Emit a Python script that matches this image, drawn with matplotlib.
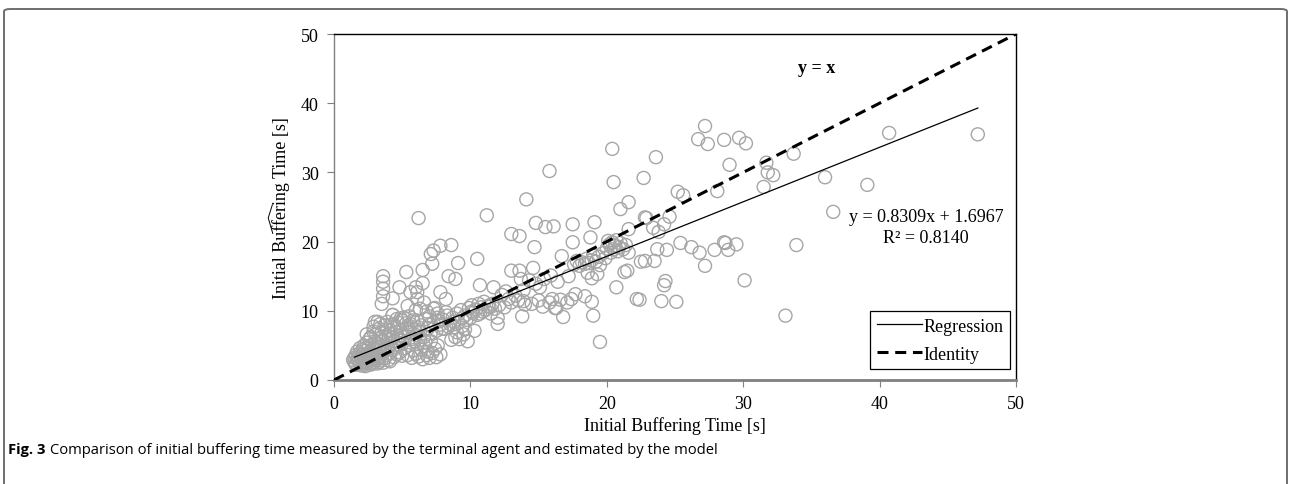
import matplotlib.pyplot as plt
from matplotlib.patches import FancyBboxPatch
from matplotlib.lines import Line2D
import numpy as np

plt.rcParams['font.family'] = 'Liberation Serif'

# measured (x) vs estimated (y) initial buffering time [s]
# dense part near the origin
x_low = [1.4, 1.5, 1.5, 1.6, 1.6, 1.7, 1.7, 1.8, 1.8, 1.9, 1.9, 1.9, 2.0, 2.0, 2.1, 2.1, 2.1,
         2.2, 2.2, 2.2, 2.3, 2.3, 2.3, 2.4, 2.4, 2.4, 2.5, 2.5, 2.5, 2.6, 2.6, 2.6,
         2.7, 2.7, 2.7, 2.8, 2.8, 2.9, 2.9, 2.9, 3.0, 3.0, 3.0, 3.1, 3.1, 3.1, 3.2, 3.2,
         3.3, 3.3, 3.3, 3.4, 3.4, 3.5, 3.5, 3.5, 3.6, 3.6, 3.7, 3.7, 3.7, 3.8, 3.8, 3.9,
         3.9, 4.0, 4.0, 4.0, 4.1, 4.1, 4.2, 4.2, 4.3, 4.3, 4.4, 4.4, 4.5, 4.5, 4.6, 4.6,
         4.7, 4.7, 4.8, 4.8, 4.9, 4.9, 5.0, 5.0, 5.0, 1.6, 2.0, 2.3, 2.8, 3.2, 3.6, 4.1,
         2.4, 2.9, 3.4, 3.9, 4.4, 4.9, 5.3, 5.8]
y_low = [2.9, 3.2, 2.6, 3.6, 2.4, 3.0, 4.1, 2.7, 3.4, 2.3, 3.9, 4.6, 2.9, 3.3, 2.5, 4.4, 3.7,
         2.2, 3.0, 5.0, 2.7, 3.5, 4.2, 2.4, 3.8, 5.4, 3.1, 2.6, 4.7, 3.4, 2.2, 5.9,
         2.8, 4.0, 6.2, 3.6, 5.1, 2.5, 4.5, 7.0, 3.2, 5.6, 8.4, 2.9, 4.8, 6.6, 3.8, 5.3,
         2.6, 4.2, 7.4, 3.4, 6.0, 4.9, 2.9, 6.9, 3.9, 5.6, 4.4, 7.9, 3.1, 6.3, 5.0, 3.6,
         7.2, 4.6, 5.9, 2.9, 6.7, 3.9, 5.3, 8.0, 4.3, 6.2, 3.3, 7.5, 5.6, 4.8, 6.9, 3.7,
         6.0, 8.3, 5.1, 4.0, 7.1, 6.4, 5.7, 3.5, 8.6, 2.2, 2.1, 2.0, 2.3, 2.4, 2.5, 2.7,
         6.6, 7.7, 8.1, 8.4, 8.0, 8.9, 8.2, 8.6]

# band between 5 and 12 s
x_mid = [5.2, 5.3, 5.5, 5.6, 5.7, 5.9, 6.0, 6.1, 6.3, 6.4, 6.6, 6.7, 6.9, 7.0, 7.1, 7.3, 7.5,
         7.6, 7.8, 8.0, 8.1, 8.3, 8.5,
         5.2, 5.4, 5.5, 5.7, 5.8, 6.0, 6.1, 6.2, 6.4, 6.5, 6.6, 6.8, 6.9, 7.0, 7.1, 7.2,
         7.4, 7.5, 7.6, 7.8, 6.3, 6.7, 5.9,
         5.5, 6.0, 6.8, 7.4, 6.6, 7.6, 4.3, 4.6, 5.1,
         8.7, 8.8, 9.0, 9.1, 9.3, 9.4, 9.6, 9.7, 9.9, 10.0, 10.1, 10.2, 9.8, 10.4, 10.5,
         10.6, 10.3, 10.8, 10.9, 11.0, 11.1, 12.0, 11.3, 11.5, 11.6, 11.8, 12.0, 12.1,
         8.9, 9.2, 9.5, 8.6, 7.3, 7.9, 8.4, 9.0, 9.6,
         5.4, 6.2, 7.0, 7.7, 8.2, 8.8, 9.4, 10.1, 10.7, 11.4]
y_mid = [6.2, 7.5, 6.8, 8.1, 5.9, 7.3, 6.5, 8.6, 7.0, 7.9, 6.2, 8.8, 7.5, 9.2, 6.8, 8.3, 7.1,
         9.6, 8.0, 8.7, 7.4, 9.3, 8.1,
         4.6, 3.6, 5.0, 3.2, 4.3, 3.8, 5.2, 3.4, 4.4, 3.0, 4.9, 3.6, 4.1, 3.2, 5.6, 3.9,
         4.5, 3.3, 5.0, 3.7, 5.8, 5.5, 5.5,
         9.2, 10.1, 9.9, 10.4, 11.2, 9.0, 9.4, 8.8, 9.0,
         9.0, 7.6, 9.6, 8.3, 10.1, 7.8, 9.3, 8.7, 10.4, 9.0, 10.8, 9.7, 5.6, 10.2, 9.4,
         11.0, 7.1, 10.5, 9.9, 11.3, 10.1, 8.1, 10.7, 9.6, 11.0, 10.3, 9.0, 10.8,
         6.2, 5.9, 6.6, 5.8, 10.3, 7.4, 7.7, 6.9, 7.3,
         7.0, 7.6, 8.0, 8.5, 9.8, 8.4, 8.9, 9.9, 9.6, 10.6]

# band between 12 and 22 s
x_high = [12.5, 13.0, 13.5, 14.0, 12.8, 13.3, 13.9, 14.5, 15.0, 15.3, 15.8, 16.2, 16.6,
          17.1, 13.8, 14.3, 14.8, 15.4, 15.9, 16.4, 13.9, 12.6,
          17.6, 17.8, 18.0, 18.2, 18.4, 18.5, 18.7, 18.9, 19.0, 19.2, 19.4, 19.5, 19.7,
          19.9, 20.0, 20.2, 20.3, 20.4, 20.5, 20.6, 20.7, 20.8, 20.9, 21.0, 21.2, 21.4,
          21.6, 18.6, 18.9, 19.3, 20.1, 20.6, 21.3, 21.5]
y_high = [10.5, 11.2, 11.5, 10.9, 11.7, 12.2, 11.4, 11.0, 11.5, 10.6, 11.2, 10.4, 11.6,
          11.2, 9.2, 14.4, 13.9, 14.6, 15.1, 14.2, 13.0, 12.8,
          16.7, 17.2, 16.5, 17.0, 16.8, 17.5, 16.9, 17.3, 18.0, 17.1, 17.8, 16.6, 18.3,
          17.6, 19.0, 19.6, 18.4, 19.9, 18.9, 19.4, 20.2, 18.6, 19.2, 19.8, 18.9, 19.5,
          18.4, 15.5, 14.7, 15.3, 20.1, 19.4, 15.6, 15.8]

# scattered points away from the bands
x_out = [3.6, 3.6, 3.6, 3.6, 3.5, 3.2, 4.3, 4.3, 4.8, 5.3, 5.4, 5.6, 6.0, 6.1, 6.1, 6.3,
         6.5, 6.5, 6.2, 7.1, 7.3, 7.8, 8.6, 7.2, 9.1, 8.4, 8.9, 7.8, 8.2, 10.7, 11.7, 10.5,
         11.2, 12.3, 13.0, 13.6, 14.1, 14.8, 15.5, 16.1, 14.7, 13.0, 13.6, 14.6, 13.7,
         15.1, 16.0, 16.8, 16.3, 17.5, 17.5, 19.1, 16.7, 18.8, 18.9, 19.0, 19.5, 17.2,
         17.7, 18.4, 17.4, 20.7, 22.2, 21.0, 21.6, 22.8, 22.8, 23.5, 15.8, 20.4, 20.5,
         23.6, 22.7, 22.9, 24.6, 23.4, 24.2, 21.6, 24.4, 23.8, 25.4, 26.2, 26.8, 27.9,
         27.2, 24.3, 24.2, 22.4, 24.0, 25.1, 26.7, 27.2, 27.4, 28.6, 29.7, 30.2, 29.0,
         25.2, 25.6, 28.1, 31.7, 31.8, 32.2, 33.7, 31.5, 36.0, 39.1, 40.7, 47.2,
         36.6, 33.9, 30.1, 33.1, 28.6, 28.7, 28.9, 29.5, 23.7, 22.5]
y_out = [15.0, 14.2, 13.2, 12.1, 11.0, 8.4, 9.4, 11.8, 13.4, 15.6, 10.7, 12.7, 13.4, 12.7,
         11.7, 10.3, 14.0, 15.9, 23.4, 18.2, 18.7, 19.4, 19.5, 16.8, 16.9, 15.0, 14.6,
         12.7, 11.7, 13.7, 13.4, 17.5, 23.8, 12.3, 21.1, 20.8, 26.1, 22.7, 22.1, 22.2,
         19.2, 15.8, 15.8, 16.2, 14.6, 13.4, 11.7, 9.1, 10.4, 22.5, 19.9, 22.8, 17.9,
         20.6, 11.3, 9.3, 5.5, 15.0, 12.4, 12.1, 11.7, 13.4, 11.7, 24.7, 25.7, 23.5, 17.2,
         17.2, 30.2, 33.4, 28.6, 32.2, 29.2, 23.4, 23.6, 22.0, 22.5, 21.8, 18.8, 21.4,
         19.8, 19.2, 18.4, 18.8, 16.5, 14.3, 13.7, 11.6, 11.4, 11.3, 34.8, 36.7, 34.1,
         34.7, 35.0, 34.2, 31.1, 27.2, 26.7, 27.3, 31.4, 30.0, 29.6, 32.7, 27.9, 29.3,
         28.2, 35.7, 35.5, 24.3, 19.5, 14.4, 9.3, 19.9, 19.8, 18.8, 19.6, 18.9, 17.1]

measured = np.array(x_low + x_mid + x_high + x_out)
estimated = np.array(y_low + y_mid + y_high + y_out)

# fitted line as drawn in the picture (end points)
reg_x = [1.5, 47.2]
reg_y = [3.3, 39.3]
ident = [0, 50]

fig = plt.figure(figsize=(12.91, 4.85), dpi=100)
ax = fig.add_axes([334/1291, 1-381/485, (1016-334)/1291, (381-35)/485])

ax.scatter(measured, estimated, s=88, facecolors='none', edgecolors='#a6a6a6',
           linewidths=1.0, zorder=2)

ax.plot(reg_x, reg_y, color='black', lw=0.9, label='Regression', zorder=3)
ax.plot(ident, ident, color='black', lw=2.2, ls=(0, (3.6, 2.2)), label='Identity', zorder=3)

ax.set_xlim(0, 50)
ax.set_ylim(0, 50)
ax.set_xticks(np.arange(0, 51, 10))
ax.set_yticks(np.arange(0, 51, 10))
ax.tick_params(direction='out', length=5, color='#808080', labelsize=13, pad=6)

for s in ['top', 'right']:
    ax.spines[s].set_color('black')
    ax.spines[s].set_linewidth(1.0)
ax.spines['left'].set_color('#808080')
ax.spines['left'].set_linewidth(1.0)
ax.spines['bottom'].set_color('#808080')
ax.spines['bottom'].set_linewidth(2.0)

ax.set_xlabel('Initial Buffering Time [s]', fontsize=13, labelpad=3)
ax.set_ylabel('Initial Buffering Time [s]', fontsize=13, labelpad=8)

ax.text(35.4, 45.2, 'y = x', fontsize=13, fontweight='bold', ha='center', va='center')
ax.text(43.4, 22.1, 'y = 0.8309x + 1.6967\nR² = 0.8140', fontsize=13,
        ha='center', va='center', linespacing=1.25)

leg = ax.legend(loc='lower right', fontsize=13, fancybox=False, edgecolor='black',
                framealpha=1, handlelength=2.5, handletextpad=0.1, borderpad=0.35,
                labelspacing=0.6, borderaxespad=0, bbox_to_anchor=(0.991, 0.032))
leg.get_frame().set_linewidth(0.9)

# page frame round the figure
frame = FancyBboxPatch((4/1291, -0.1), 1283/1291, 1.1 - 10/485,
                       boxstyle='round,pad=0,rounding_size=0.005',
                       transform=fig.transFigure, fill=False, edgecolor='#6e6e6e',
                       lw=1.4, clip_on=False)
fig.patches.append(frame)

# caption
t1 = fig.text(8/1291, 1-454/485, 'Fig. 3', fontsize=10.6, fontweight='bold',
              family='Open Sans', va='baseline')
fig.canvas.draw()
bb = t1.get_window_extent()
fig.text((bb.x1 + 4)/1291, 1-454/485,
         'Comparison of initial buffering time measured by the terminal agent and estimated by the model',
         fontsize=10.6, family='Open Sans', va='baseline')

# wide hat over part of the y label (estimated quantity)
lb = ax.yaxis.label.get_window_extent()
hx = [lb.x0 + 1, lb.x0 - 3.5, lb.x0 + 0.5]
hy = [lb.y0 + 0.355*lb.height, lb.y0 + 0.44*lb.height, lb.y0 + 0.51*lb.height]
fig.lines.append(Line2D([v/1291 for v in hx], [v/485 for v in hy], color='black',
                        lw=0.7, transform=fig.transFigure))

fig.savefig('out.png', dpi=100)
